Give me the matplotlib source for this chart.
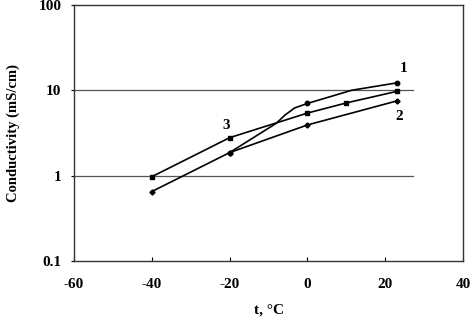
import matplotlib
matplotlib.use("Agg")
import matplotlib.pyplot as plt
from matplotlib.ticker import FixedLocator, NullLocator

# Data
t1 = [-20, -8, -5.8, -3.3, 0, 11.4, 23]
s1 = [1.86, 4.1, 5.1, 6.2, 7.0, 10.0, 12.2]
s1_markers = [0, 4, 6]

t2 = [-40, -20, 0, 23]
s2 = [0.65, 1.86, 3.92, 7.5]

t3 = [-40, -20, 0, 10, 23]
s3 = [0.97, 2.78, 5.4, 7.1, 9.7]

grid_values = [1, 10]
x_ticks = [-60, -40, -20, 0, 20, 40]
y_ticks = [0.1, 1, 10, 100]
y_tick_labels = ["0.1", "1", "10", "100"]

labels = ["1", "2", "3"]
label_pos = [(24.7, 18.0), (23.5, 4.86), (-21.0, 3.9)]

serif = ["Liberation Serif", "DejaVu Serif"]

fig = plt.figure(figsize=(4.74, 3.23), dpi=100)
ax = fig.add_axes([0.156, 0.192, 0.821, 0.793])
ax.set_yscale("log")
ax.set_xlim(-60, 40)
ax.set_ylim(0.1, 100)

for g in grid_values:
    ax.plot([-60, 27], [g, g], color="#555555", lw=0.9, zorder=1)

ax.plot(t1, s1, color="black", lw=1.2, marker="o", ms=3.2, markevery=s1_markers, zorder=3)
ax.plot(t2, s2, color="black", lw=1.2, marker="D", ms=2.6, zorder=3)
ax.plot(t3, s3, color="black", lw=1.2, marker="s", ms=3.0, zorder=3)

for lab, (x, y) in zip(labels, label_pos):
    ax.text(x, y, lab, fontsize=11, fontweight="bold", family=serif,
            ha="center", va="center")

ax.xaxis.set_major_locator(FixedLocator(x_ticks))
ax.yaxis.set_major_locator(FixedLocator(y_ticks))
ax.yaxis.set_minor_locator(NullLocator())
ax.set_yticklabels(y_tick_labels)
ax.set_xticklabels([str(v) for v in x_ticks])
ax.tick_params(axis="x", direction="in", length=3, width=0.8, pad=12)
ax.tick_params(axis="y", direction="out", length=2, width=0.8, pad=7)
for lab in ax.get_xticklabels() + ax.get_yticklabels():
    lab.set_family(serif)
    lab.set_fontweight("bold")
    lab.set_fontsize(11)

for sp in ax.spines.values():
    sp.set_color("#333333")
    sp.set_linewidth(1.0)

ax.set_xlabel("t, °C", family=serif, fontweight="bold", fontsize=11, labelpad=9)
ax.set_ylabel("Conductivity (mS/cm)", family=serif, fontweight="bold", fontsize=10.5, labelpad=13)

fig.savefig("out.png", dpi=100)
